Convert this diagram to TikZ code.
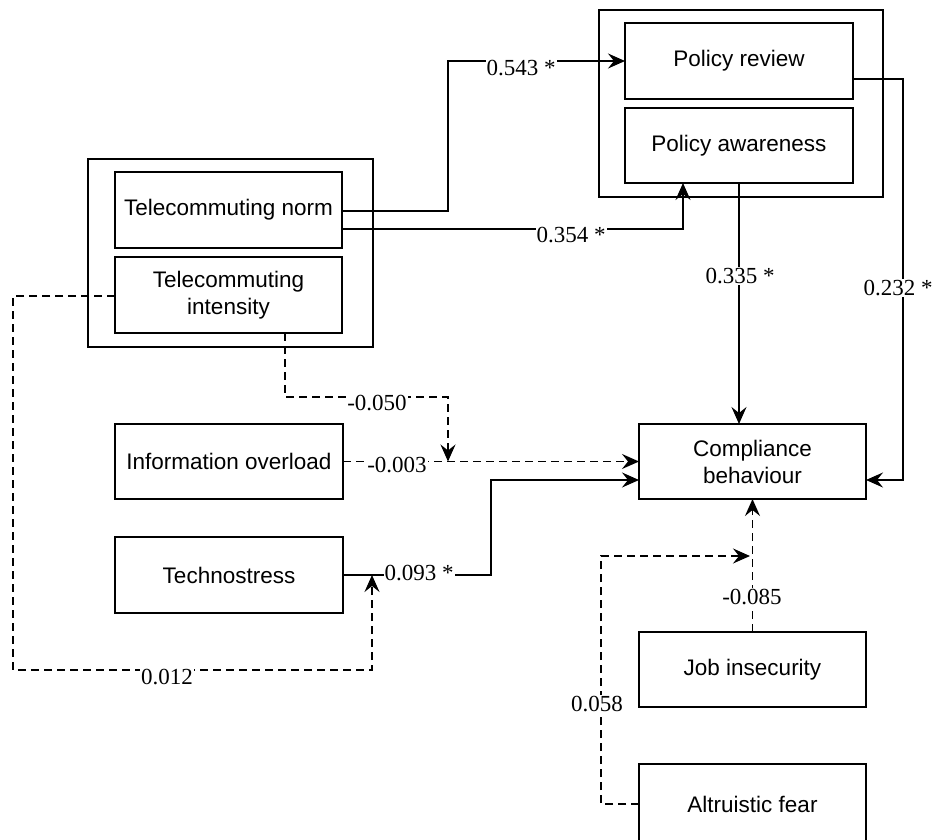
\documentclass[tikz,border=0pt]{standalone}
\usepackage{fontspec}
\setmainfont{Liberation Serif}
\newfontfamily\boxfont{Liberation Sans}
\usetikzlibrary{arrows.meta}
\begin{document}
\begin{tikzpicture}[x=1pt,y=-1pt,
  var/.style={draw,line width=1.8pt,inner sep=0pt,outer sep=0pt,
    minimum width=227pt,minimum height=76pt,align=center,
    font=\boxfont\fontsize{22.5}{27}\selectfont},
  grp/.style={draw,line width=1.8pt,inner sep=0pt,outer sep=0pt},
  link/.style={line width=1.7pt,-{Stealth[length=17pt,width=15pt,inset=6pt]}},
  weak/.style={dash pattern=on 8pt off 5pt},
  coef/.style={fill=white,inner sep=1pt,font=\fontsize{23}{27}\selectfont}]
\useasboundingbox (0,0) rectangle (935,839);

% grouping frames
\node[grp,minimum width=285pt,minimum height=188pt] (tgroup) at (230.5,253) {};
\node[grp,minimum width=284pt,minimum height=187pt] (pgroup) at (741,103.5) {};

% constructs
\node[var] (tn) at (228.5,210) {Telecommuting norm};
\node[var] (ti) at (228.5,295) {Telecommuting\\intensity};
\node[var,minimum width=228pt] (pr) at (739,61) {Policy review};
\node[var,minimum width=228pt,minimum height=75pt] (pa) at (739,145.5) {Policy awareness};
\node[var,minimum height=75pt] (cb) at (752.5,461.5) {Compliance\\behaviour};
\node[var,minimum width=228pt,minimum height=75pt] (io) at (229,461.5) {Information overload};
\node[var,minimum width=228pt] (ts) at (229,575) {Technostress};
\node[var,minimum height=75pt] (ji) at (752.5,669.5) {Job insecurity};
\node[var,minimum height=80pt] (af) at (752.5,804) {Altruistic fear};

% junction points on other paths
\coordinate (j1) at (448,461.5);
\coordinate (j2) at (372,575);
\coordinate (j3) at (750,556);

% significant paths
\draw[link] ([yshift=-1pt]tn.east) -- ++(106,0) |- (pr.west);
\draw[link] ([yshift=-19pt]tn.east) -| ([xshift=-56pt]pa.south);
\draw[link] (pa.south) -- (pa.south |- cb.north);
\draw[link] ([yshift=-18pt]pr.east) -- ++(50,0) |- ([yshift=-18.5pt]cb.east);
\draw[link] (ts.east) -- ++(148,0) |- ([yshift=-18.5pt]cb.west);

% non-significant paths
\draw[link,weak] (io.east) -- (cb.west);
\draw[link,weak] ([xshift=56.5pt]ti.south) -- ++(0,64) -| (j1);
\draw[link,weak] ([yshift=-1pt]ti.west) -- ++(-102,0) -- ++(0,374) -| (j2);
\draw[link,weak] (ji.north) -- (cb.south);
\draw[link,weak] (af.west) -- ++(-38,0) |- (j3);

% path coefficients
\node[coef] (c543) at (521,68) {0.543 *};
\node[coef] (c354) at (571,235) {0.354 *};
\node[coef] (c335) at (740,276) {0.335 *};
\node[coef] (c232) at (898,288) {0.232 *};
\node[coef] (c050) at (377,403) {-0.050};
\node[coef] (c003) at (397,465) {-0.003};
\node[coef] (c093) at (419,573) {0.093 *};
\node[coef] (c012) at (167,677) {0.012};
\node[coef] (c085) at (752,597) {-0.085};
\node[coef] (c058) at (597,704) {0.058};
\end{tikzpicture}
\end{document}
